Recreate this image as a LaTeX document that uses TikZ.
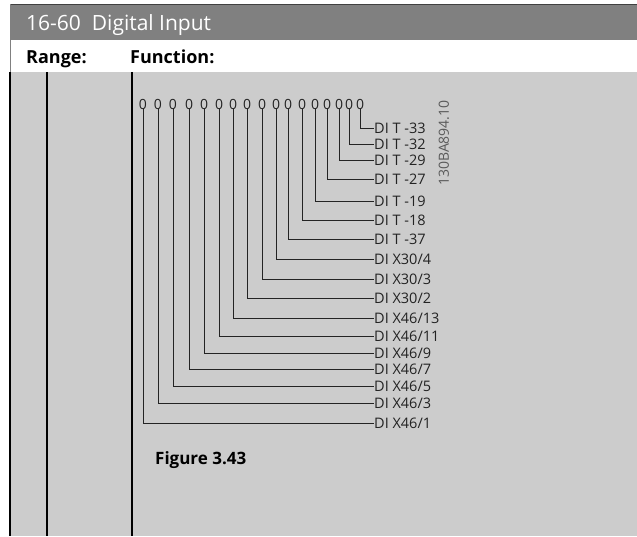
\documentclass[tikz,border=0pt]{standalone}
\usepackage{fontspec}
\setmainfont{Open Sans}
\usetikzlibrary{positioning}
\definecolor{headcol}{RGB}{128,128,128}
\definecolor{bodycol}{RGB}{204,204,204}
\definecolor{wirecol}{RGB}{35,35,35}
\definecolor{codecol}{RGB}{90,90,90}
\begin{document}
\begin{tikzpicture}[x=1pt,y=-1pt,
  bit/.style={inner sep=0pt,text height=10pt,text depth=0pt,
              font=\fontsize{14}{14}\selectfont,text=wirecol},
  sig/.style={anchor=west,inner sep=0pt,text height=10pt,text depth=0pt,
              font=\fontsize{14.5}{15}\selectfont,text=wirecol},
  wire/.style={line width=0.9pt,draw=wirecol},
  colrule/.style={line width=1.5pt,draw=black},
  headtxt/.style={anchor=base west,inner sep=0pt,
                  font=\bfseries\fontsize{18}{18}\selectfont},
]
\useasboundingbox (0,0) rectangle (637,536);
% table frame
\fill[headcol] (10,4) rectangle (637,40);
\draw[black!75,line width=1pt] (10,4) -- (637,4);
\fill[bodycol] (10,72) rectangle (637,536);
\draw[gray,line width=0.6pt] (10,4) -- (10,72);
\foreach \cx in {10,47,132}
  \draw[colrule] (\cx,72) -- (\cx,536);
\node[anchor=base west,inner sep=0pt,text=white,
      font=\fontsize{21}{21}\selectfont] (title) at (26,30) {16-60\ \ Digital Input};
\node[headtxt] (range) at (26,63) {Range:};
\node[headtxt] (func) at (130,63) {Function:};
% bits and their signals
\foreach \bx/\ly/\name [count=\i] in {
    143/423/{X46/1}, 158/403/{X46/3}, 173/386/{X46/5}, 189/369/{X46/7},
    204/353/{X46/9}, 219/336/{X46/11}, 233/318/{X46/13}, 247/298/{X30/2},
    262/279/{X30/3}, 276/259/{X30/4}, 288/239/{T -37}, 302/220/{T -18},
    315/201/{T -19}, 327/179/{T -27}, 339/160/{T -29}, 349/144/{T -32},
    360/128/{T -33}}
{
  \node[bit] (b\i) at (\bx,104) {0};
  \node[sig] (s\i) at (374,\ly) {DI \name};
  \draw[wire] (b\i.south) |- (s\i.west);
}
\node[rotate=90,inner sep=0pt,text=codecol,
      font=\fontsize{14}{14}\selectfont] (code) at (444,143) {130BA894.10};
\node[headtxt,font=\bfseries\fontsize{17}{17}\selectfont] (fig) at (155,464) {Figure 3.43};
\end{tikzpicture}
\end{document}
